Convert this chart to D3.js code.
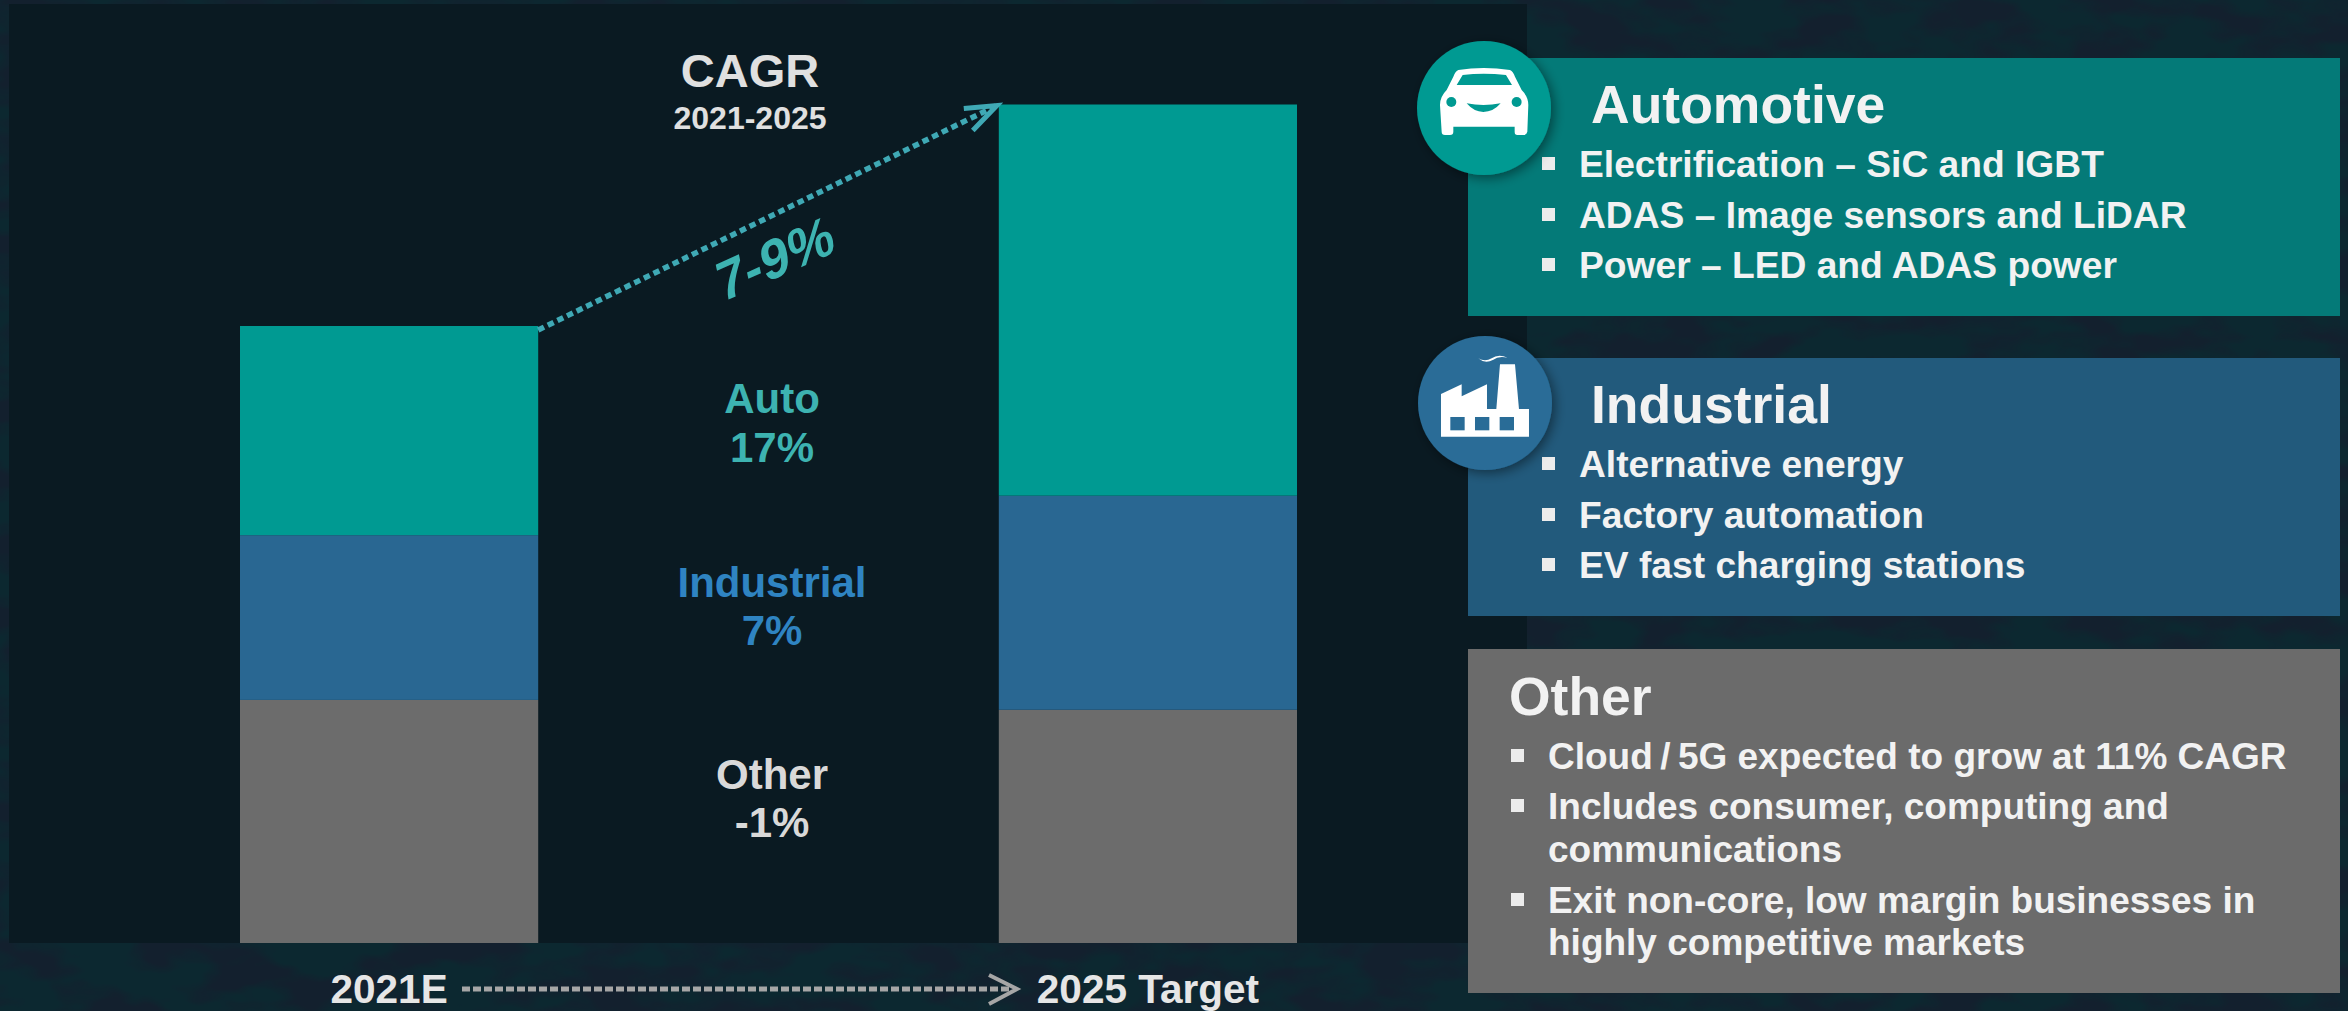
<!DOCTYPE html>
<html>
<head>
<meta charset="utf-8">
<script src="https://cdn.jsdelivr.net/npm/d3@7"></script>
<style>
  html, body { margin: 0; padding: 0; background: #0c2830; overflow: hidden; }
  svg { display: block; }
  text { font-family: "Liberation Sans", Arial, sans-serif; font-weight: bold; }
</style>
</head>
<body>
<svg id="chart" width="2348" height="1011"></svg>
<script>
// values indexed to 2021 = 100
const years = ['2021E', '2025 Target']
const segments = ['other', 'industrial', 'auto']
const other = [39.4, 37.8]
const industrial = [26.7, 34.7]
const auto = [33.9, 63.4]

const segmentColors = ['#6c6c6c', '#296792', '#009a92']
const cagrNames = ['Other', 'Industrial', 'Auto']
const cagrValues = ['-1%', '7%', '17%']
const cagrColors = ['#d9d9d9', '#2f84c2', '#3db3b1']

const autoBullets = ['Electrification – SiC and IGBT', 'ADAS – Image sensors and LiDAR', 'Power – LED and ADAS power']
const industrialBullets = ['Alternative energy', 'Factory automation', 'EV fast charging stations']
const otherLines = ['Cloud\u2009/\u20095G expected to grow at 11% CAGR', 'Includes consumer, computing and', 'communications', 'Exit non-core, low margin businesses in', 'highly competitive markets']
const otherHasBullet = [true, true, false, true, false]

const svg = d3.select('#chart')

// backdrop
const defs = svg.append('defs')
const shadow = defs.append('filter').attr('id', 'shadow').attr('x', '-30%').attr('y', '-30%').attr('width', '160%').attr('height', '160%')
shadow.append('feDropShadow').attr('dx', 3).attr('dy', 3).attr('stdDeviation', 6).attr('flood-color', '#000').attr('flood-opacity', 0.45)

// navy blotches over the teal page colour
const blotch = defs.append('filter').attr('id', 'blotch').attr('x', 0).attr('y', 0).attr('width', '100%').attr('height', '100%')
  .attr('color-interpolation-filters', 'sRGB')
blotch.append('feTurbulence').attr('type', 'fractalNoise').attr('baseFrequency', '0.014 0.03').attr('numOctaves', 3).attr('seed', 7)
blotch.append('feColorMatrix').attr('type', 'matrix')
  .attr('values', '0 0 0 0 0.075  0 0 0 0 0.125  0 0 0 0 0.18  4 0 0 0 -1.6')

svg.append('rect').attr('width', 2348).attr('height', 1011).attr('fill', '#0c2830')
svg.append('rect').attr('width', 2348).attr('height', 1011).attr('filter', 'url(#blotch)')
svg.append('rect').attr('x', 9).attr('y', 4).attr('width', 1518).attr('height', 939).attr('fill', '#0a1a22')

// stacked bars
const x = d3.scaleBand().domain(years).range([240, 1297]).paddingInner(0.607).paddingOuter(0)
const y = d3.scaleLinear().domain([0, 100]).range([943, 326])

const rows = years.map((year, i) => ({ year: year, other: other[i], industrial: industrial[i], auto: auto[i] }))
const stack = d3.stack().keys(segments)(rows)

svg.append('g').selectAll('g')
  .data(stack)
  .join('g')
    .attr('fill', (d, i) => segmentColors[i])
  .selectAll('rect')
  .data(d => d)
  .join('rect')
    .attr('x', d => x(d.data.year))
    .attr('width', x.bandwidth())
    .attr('y', d => y(d[1]))
    .attr('height', d => y(d[0]) - y(d[1]))

// category labels
const axis = svg.append('g')
  .attr('transform', 'translate(0,943)')
  .call(d3.axisBottom(x).tickSize(0).tickPadding(31))
axis.select('.domain').remove()
axis.selectAll('text')
  .attr('fill', '#e6e6e6')
  .style('font-family', '"Liberation Sans", Arial, sans-serif')
  .style('font-weight', 'bold')
  .style('font-size', '40.5px')

// dashed arrow between the two labels
svg.append('line')
  .attr('x1', 462).attr('y1', 989).attr('x2', 1012).attr('y2', 989)
  .attr('stroke', '#a6a6a6').attr('stroke-width', 5).attr('stroke-dasharray', '8 3')
svg.append('path')
  .attr('d', 'M989 975L1017 989L989 1004')
  .attr('fill', 'none').attr('stroke', '#a6a6a6').attr('stroke-width', 4)

// growth arrow from the top of one bar to the top of the other
const arrowStart = [x(years[0]) + x.bandwidth(), y(100) + 4]
const arrowEnd = [x(years[1]) - 2, y(d3.sum([other[1], industrial[1], auto[1]])) + 1]
svg.append('line')
  .attr('x1', arrowStart[0]).attr('y1', arrowStart[1]).attr('x2', arrowEnd[0]).attr('y2', arrowEnd[1])
  .attr('stroke', '#3fa9b5').attr('stroke-width', 5.5).attr('stroke-dasharray', '6.5 4.2')
svg.append('path')
  .attr('d', `M${arrowEnd[0] - 33} ${arrowEnd[1] + 3}L${arrowEnd[0]} ${arrowEnd[1]}L${arrowEnd[0] - 24} ${arrowEnd[1] + 25}`)
  .attr('fill', 'none').attr('stroke', '#3fa9b5').attr('stroke-width', 5)

function label(txt, lx, ly, size, color, anchor){
  return svg.append('text')
    .attr('x', lx).attr('y', ly)
    .attr('font-size', size)
    .attr('fill', color)
    .attr('text-anchor', anchor || 'start')
    .text(txt)
}

label('CAGR', 750, 87, 47, '#e0e0e0', 'middle')
label('2021-2025', 750, 129, 32, '#e0e0e0', 'middle')
label('7-9%', 0, 0, 54, '#3db3b1', 'middle')
  .attr('transform', 'translate(779,277) rotate(-24) skewX(-12)')

const nameBase = [789, 597, 413]
const valueBase = [837, 645, 462]
cagrNames.forEach(function(name, i){
  label(name, 772, nameBase[i], 42, cagrColors[i], 'middle')
  label(cagrValues[i], 772, valueBase[i], 42, cagrColors[i], 'middle')
})

// right hand panels
function bullet(bx, by, size){
  svg.append('rect').attr('x', bx).attr('y', by).attr('width', size).attr('height', size).attr('fill', '#ececec')
}

function panel(py, h, color){
  svg.append('rect').attr('x', 1468).attr('y', py).attr('width', 872).attr('height', h).attr('fill', color)
}

panel(58, 258, '#047a78')
panel(358, 258, '#225a7c')
panel(649, 344, '#6b6b6b')

label('Automotive', 1591, 123, 53.5, '#f2f2f2')
label('Industrial', 1591, 423, 53.5, '#f2f2f2')
label('Other', 1509, 715, 53.5, '#f2f2f2')

const rowOffsets = [177, 228, 278]
autoBullets.forEach(function(t, i){
  label(t, 1579, rowOffsets[i], 37.2, '#f2f2f2')
  bullet(1542, rowOffsets[i] - 20, 13)
})
industrialBullets.forEach(function(t, i){
  label(t, 1579, rowOffsets[i] + 300, 37.2, '#f2f2f2')
  bullet(1542, rowOffsets[i] + 280, 13)
})

const otherBase = [769, 819, 862, 913, 955]
otherLines.forEach(function(t, i){
  label(t, 1548, otherBase[i], 37, '#f2f2f2')
  if(otherHasBullet[i]) bullet(1511, otherBase[i] - 20, 13)
})

// icon badges
svg.append('circle').attr('cx', 1484).attr('cy', 108).attr('r', 67).attr('fill', '#009a92').attr('filter', 'url(#shadow)')
svg.append('circle').attr('cx', 1485).attr('cy', 403).attr('r', 67).attr('fill', '#296c97').attr('filter', 'url(#shadow)')

const car = svg.append('g').attr('transform', 'translate(1400,30) scale(0.3333)')
car.append('path')
  .attr('fill-rule', 'evenodd')
  .attr('fill', '#fff')
  .attr('d', 'M175 120Q250 108 330 120Q340 125 345 140L365 180Q385 200 385 225L382 305Q380 315 370 315L352 315Q344 315 344 305L344 290L160 290L160 305Q160 315 150 315L135 315Q125 315 125 305L120 225Q120 200 140 180L160 140Q165 125 175 120ZM188 135Q250 128 318 135L336 165L170 165Z')
car.append('circle').attr('cx', 154).attr('cy', 216).attr('r', 15).attr('fill', '#009a92')
car.append('circle').attr('cx', 350).attr('cy', 216).attr('r', 15).attr('fill', '#009a92')
car.append('path').attr('fill', '#009a92').attr('d', 'M200 220Q250 230 302 220Q280 246 250 246Q222 246 200 220Z')

const factory = svg.append('g').attr('transform', 'translate(1400,325) scale(0.3333)')
factory.append('path')
  .attr('fill', '#fff')
  .attr('d', 'M123 207L185 178L185 214L261 178L261 252L289 252L300 118L345 118L357 252L387 252L387 335L123 335Z')
factory.append('g').selectAll('rect')
  .data([151, 225, 299])
  .join('rect')
    .attr('x', d => d).attr('y', 276).attr('width', 43).attr('height', 40).attr('fill', '#296c97')
factory.append('path').attr('fill', '#fff').attr('d', 'M235 100Q255 112 275 100Q295 85 323 98Q295 92 280 104Q255 118 235 100Z')
</script>
</body>
</html>
